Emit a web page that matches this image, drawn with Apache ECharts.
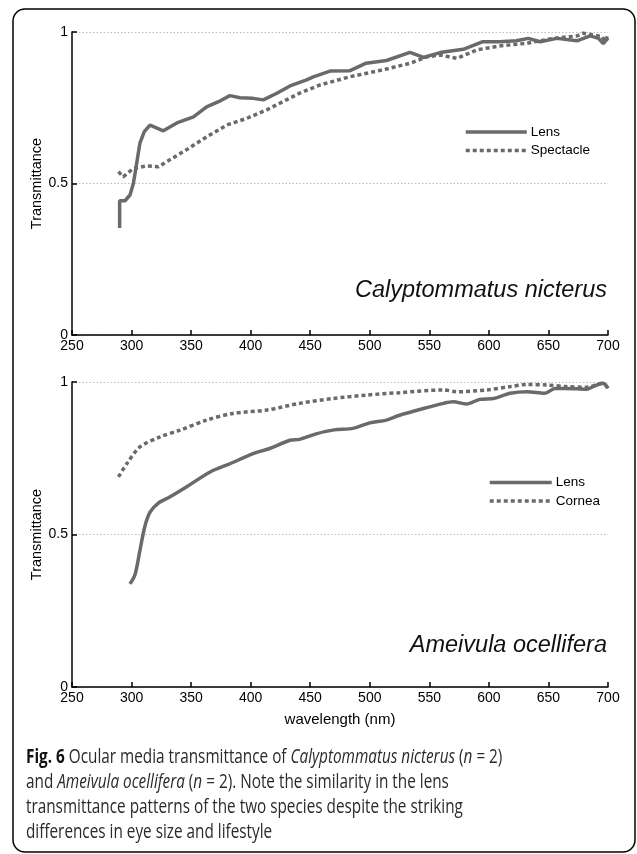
<!DOCTYPE html>
<html><head><meta charset="utf-8">
<script src="https://cdn.jsdelivr.net/npm/echarts@6/dist/echarts.min.js"></script>
<style>html,body{margin:0;padding:0;background:#fff;}#c{width:637px;height:854px;}</style>
</head><body><div id="c"></div>
<script>
// Top panel: Calyptommatus nicterus
var topLensX = [290, 290, 294.5, 298.7, 301.5, 303, 307, 310.7, 315.5, 326.7, 338, 352, 363, 373, 382.6, 391, 402, 410.6, 422, 433, 447, 452.6, 466.6, 483, 497, 514, 533.8, 545, 559, 578.5, 595, 609, 623, 633, 643, 657, 674, 685, 692, 696, 700];
var topLensY = [0.353, 0.443, 0.443, 0.462, 0.50, 0.535, 0.633, 0.671, 0.693, 0.674, 0.70, 0.72, 0.753, 0.77, 0.79, 0.783, 0.781, 0.776, 0.798, 0.822, 0.842, 0.852, 0.871, 0.872, 0.897, 0.906, 0.933, 0.916, 0.932, 0.943, 0.968, 0.968, 0.971, 0.979, 0.968, 0.979, 0.971, 0.987, 0.979, 0.962, 0.98];
var topSpecX = [289, 293, 301.5, 312.7, 322.5, 332, 346, 363, 380, 396.7, 413.5, 430, 441, 458, 483, 511, 534, 548, 559, 573, 590, 609, 632, 654, 674, 679, 688, 695, 697.5, 700];
var topSpecY = [0.539, 0.522, 0.55, 0.558, 0.555, 0.578, 0.611, 0.654, 0.693, 0.715, 0.743, 0.776, 0.798, 0.825, 0.852, 0.875, 0.897, 0.918, 0.924, 0.913, 0.941, 0.954, 0.963, 0.979, 0.987, 0.996, 0.99, 0.985, 0.968, 0.99];
// Bottom panel: Ameivula ocellifera
var botLensX = [298.7, 303, 307, 311, 315.5, 322.5, 332, 346, 366, 382.6, 402, 416, 433, 441, 455, 470, 486, 500, 514, 525, 545, 562, 570, 581, 592.5, 604, 618, 632, 647, 655.5, 665, 682, 687.6, 696, 700];
var botLensY = [0.338, 0.37, 0.447, 0.524, 0.573, 0.603, 0.623, 0.656, 0.705, 0.732, 0.765, 0.782, 0.809, 0.812, 0.83, 0.843, 0.848, 0.866, 0.875, 0.891, 0.913, 0.93, 0.935, 0.928, 0.943, 0.946, 0.963, 0.968, 0.963, 0.979, 0.979, 0.976, 0.985, 0.996, 0.979];
var botCorneaX = [289, 296, 307, 324, 340.7, 363, 385, 413.5, 441, 469, 497, 525, 562, 573, 598, 618, 632, 648.6, 665, 682, 696, 700];
var botCorneaY = [0.689, 0.732, 0.787, 0.82, 0.842, 0.875, 0.897, 0.908, 0.93, 0.946, 0.957, 0.965, 0.974, 0.968, 0.974, 0.985, 0.992, 0.99, 0.985, 0.983, 0.996, 0.976];
var xTicks = [250, 300, 350, 400, 450, 500, 550, 600, 650, 700];
var yTicks = [0, 0.5, 1];

function pairs(xs, ys){ return xs.map(function(x,i){ return [x, ys[i]]; }); }

var FONT = '"Liberation Sans", Arial, sans-serif';
var LINE_COLOR = '#6a6a6a';

function xAxis(idx, withName){
  return {
    type: 'value', gridIndex: idx, min: xTicks[0], max: xTicks[xTicks.length-1], interval: 50,
    axisLine: {show: true, lineStyle: {color: '#000', width: 1.5}},
    axisTick: {show: true, inside: true, length: 5, lineStyle: {color: '#000', width: 1.5}},
    axisLabel: {color: '#000', fontSize: 14, fontFamily: FONT, margin: 4},
    splitLine: {show: false},
    name: withName ? 'wavelength (nm)' : '', nameLocation: 'middle', nameGap: 25,
    nameTextStyle: {color: '#000', fontSize: 15, fontFamily: FONT}
  };
}
function yAxis(idx){
  return {
    type: 'value', gridIndex: idx, min: yTicks[0], max: yTicks[yTicks.length-1], interval: 0.5,
    axisLine: {show: true, lineStyle: {color: '#000', width: 1.5}},
    axisTick: {show: true, inside: true, length: 5, lineStyle: {color: '#000', width: 1.5}},
    axisLabel: {color: '#000', fontSize: 14, fontFamily: FONT, margin: 4,
      formatter: function(v){ return String(v); }},
    splitLine: {show: true, lineStyle: {color: '#bbb', type: [1.5, 2], width: 1}},
    name: 'Transmittance', nameLocation: 'middle', nameGap: 28, nameMoveOverlap: false,
    nameTextStyle: {color: '#000', fontSize: 14.5, fontFamily: FONT}
  };
}
function ser(name, idx, xs, ys, dotted, smooth){
  return {
    name: name, type: 'line', xAxisIndex: idx, yAxisIndex: idx,
    data: pairs(xs, ys), symbol: 'none', smooth: smooth, animation: false,
    lineStyle: {color: LINE_COLOR, width: 3.5, type: dotted ? [4, 3] : 'solid', cap: 'butt'},
    itemStyle: {color: LINE_COLOR}
  };
}
function legend(names, left, top, w){
  return {data: names, left: left, top: top, orient: 'vertical', itemWidth: w, itemHeight: 13, itemGap: 4.5,
    icon: 'inherit', itemStyle: {opacity: 0}, lineStyle: {width: 3.5},
    textStyle: {color: '#000', fontSize: 13.5, fontFamily: FONT, lineHeight: 13, padding: [0, 0, 0, -1]},
    selectedMode: false, padding: 0, formatter: function(n){ return n.trim(); }};
}

var chart = echarts.init(document.getElementById('c'), null, {renderer: 'canvas'});
var CAP_FONT = '"Open Sans", "Noto Sans", sans-serif';
var CAP_SCALE = 0.785;
function capText(y, text){
  return {type: 'text', x: 26, y: y, scaleX: CAP_SCALE, silent: true,
    style: {text: text, fontFamily: CAP_FONT, fontSize: 19.5, fill: '#2a2a2a', verticalAlign: 'middle', align: 'left',
      rich: {
        b: {fontFamily: CAP_FONT, fontSize: 19.5, fontWeight: 'bold', fill: '#111'},
        i: {fontFamily: CAP_FONT, fontSize: 19.5, fontStyle: 'italic', fill: '#2a2a2a'}
      }}};
}
chart.setOption({
  animation: false,
  backgroundColor: '#fff',
  grid: [
    {left: 72, width: 536, top: 32, height: 303, containLabel: false},
    {left: 72, width: 536, top: 382, height: 305, containLabel: false}
  ],
  xAxis: [xAxis(0, false), xAxis(1, true)],
  yAxis: [yAxis(0), yAxis(1)],
  legend: [
    legend(['Lens', 'Spectacle'], 464, 125, 61),
    legend(['Lens ', 'Cornea'], 488, 475.5, 62)
  ],
  series: [
    ser('Lens', 0, topLensX, topLensY, false, false),
    ser('Spectacle', 0, topSpecX, topSpecY, true, false),
    ser('Lens ', 1, botLensX, botLensY, false, 0.3),
    ser('Cornea', 1, botCorneaX, botCorneaY, true, 0.3)
  ],
  graphic: [
    {type: 'rect', shape: {x: 13, y: 9, width: 622, height: 843, r: 12}, silent: true,
      style: {fill: 'none', stroke: '#000', lineWidth: 1.5}},
    {type: 'text', right: 30, top: 279, silent: true,
      style: {text: 'Calyptommatus nicterus', font: 'italic 23.5px "Liberation Sans", Arial, sans-serif', fill: '#111'}},
    {type: 'text', right: 30, top: 634, silent: true,
      style: {text: 'Ameivula ocellifera', font: 'italic 23.5px "Liberation Sans", Arial, sans-serif', fill: '#111'}},
    capText(757, '{b|Fig. 6} Ocular media transmittance of {i|Calyptommatus nicterus} ({i|n} = 2)'),
    capText(782, 'and {i|Ameivula ocellifera} ({i|n} = 2). Note the similarity in the lens'),
    capText(807, 'transmittance patterns of the two species despite the striking'),
    capText(832, 'differences in eye size and lifestyle')
  ]
});
</script></body></html>
